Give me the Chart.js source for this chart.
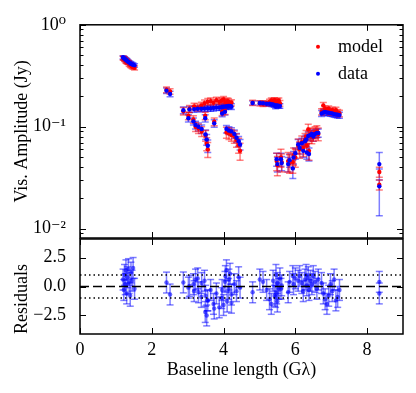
<!DOCTYPE html>
<html>
<head>
<meta charset="utf-8">
<script src="https://cdn.jsdelivr.net/npm/chart.js@4.4.0/dist/chart.umd.min.js"></script>
<style>
  body { margin: 0; background: #fff; }
  #wrap { position: relative; width: 416px; height: 393px; }
  canvas { position: absolute; left: 0; top: 0; }
</style>
</head>
<body>
<div id="wrap">
  <canvas id="amp" width="416" height="393"></canvas>
  <canvas id="res" width="416" height="393"></canvas>
</div>
<script>
// baseline length in G lambda
const baseline = [
  1.20, 1.22, 1.24, 1.26, 1.28, 1.30, 1.32, 1.35, 1.37, 1.40, 1.42, 1.45, 1.48, 1.52,
  2.41, 2.51,
  2.88, 3.05, 3.18, 3.28, 3.38, 3.47, 3.56, 3.64, 3.72, 3.80, 3.88, 3.95, 4.00, 4.05, 4.10, 4.14, 4.18, 4.22,
  3.96, 4.04,
  3.02, 3.16, 3.22, 3.30, 3.39, 3.49, 3.50, 3.53, 3.56, 3.74,
  4.08, 4.15, 4.22, 4.30, 4.36, 4.42, 4.46,
  4.81, 5.01, 5.10, 5.20, 5.28, 5.33, 5.38, 5.42, 5.46, 5.50, 5.54, 5.57, 5.45,
  5.48, 5.50, 5.60, 5.62, 5.80, 5.84, 5.93, 5.95, 6.00, 6.08, 6.12, 6.18, 6.22, 6.27, 6.30, 6.32, 6.36, 6.38, 6.42, 6.46, 6.50, 6.55, 6.60, 6.64,
  6.73, 6.78, 6.83, 6.88, 6.93, 6.98, 7.03, 7.08, 7.13, 7.18, 7.23,
  8.34, 8.34
];
// observed amplitude (Jy) and its error
const ampData = [
  0.480, 0.472, 0.468, 0.460, 0.455, 0.448, 0.440, 0.432, 0.428, 0.420, 0.415, 0.410, 0.405, 0.400,
  0.226, 0.210,
  0.145, 0.148, 0.149, 0.150, 0.150, 0.151, 0.152, 0.152, 0.153, 0.154, 0.155, 0.156, 0.157, 0.158, 0.159, 0.160, 0.160, 0.158,
  0.135, 0.140,
  0.121, 0.113, 0.104, 0.100, 0.095, 0.121, 0.084, 0.075, 0.065, 0.108,
  0.095, 0.092, 0.090, 0.085, 0.078, 0.072, 0.067,
  0.171, 0.171, 0.170, 0.168, 0.168, 0.166, 0.165, 0.163, 0.162, 0.162, 0.160, 0.160, 0.158,
  0.048, 0.043, 0.048, 0.044, 0.043, 0.047, 0.039, 0.050, 0.055, 0.067, 0.062, 0.069, 0.058, 0.072, 0.075, 0.056, 0.081, 0.054, 0.083, 0.085, 0.080, 0.085, 0.087, 0.087,
  0.135, 0.138, 0.140, 0.138, 0.137, 0.136, 0.135, 0.133, 0.132, 0.131, 0.130,
  0.043, 0.026
];
const ampDataErr = [
  0.018, 0.018, 0.018, 0.018, 0.018, 0.018, 0.018, 0.017, 0.017, 0.017, 0.017, 0.016, 0.016, 0.016,
  0.014, 0.013,
  0.011, 0.010, 0.010, 0.010, 0.010, 0.010, 0.010, 0.010, 0.010, 0.010, 0.010, 0.010, 0.010, 0.010, 0.010, 0.010, 0.010, 0.010,
  0.010, 0.010,
  0.010, 0.009, 0.009, 0.009, 0.009, 0.010, 0.009, 0.009, 0.009, 0.009,
  0.008, 0.008, 0.008, 0.008, 0.008, 0.008, 0.008,
  0.008, 0.008, 0.008, 0.008, 0.008, 0.008, 0.008, 0.008, 0.008, 0.008, 0.008, 0.008, 0.008,
  0.007, 0.007, 0.007, 0.007, 0.007, 0.007, 0.008, 0.007, 0.007, 0.008, 0.008, 0.008, 0.008, 0.008, 0.008, 0.008, 0.008, 0.008, 0.008, 0.008, 0.008, 0.008, 0.008, 0.008,
  0.009, 0.009, 0.009, 0.009, 0.009, 0.009, 0.009, 0.009, 0.009, 0.009, 0.009,
  0.013, 0.0126
];
// model amplitude (Jy) and its error
const ampModel = [
  0.472, 0.468, 0.458, 0.452, 0.440, 0.438, 0.430, 0.428, 0.412, 0.405, 0.398, 0.390, 0.385, 0.378,
  0.231, 0.222,
  0.142, 0.150, 0.158, 0.155, 0.162, 0.170, 0.176, 0.178, 0.172, 0.182, 0.176, 0.180, 0.185, 0.172, 0.178, 0.176, 0.168, 0.172,
  0.140, 0.143,
  0.128, 0.118, 0.100, 0.096, 0.090, 0.128, 0.082, 0.068, 0.060, 0.112,
  0.088, 0.086, 0.083, 0.080, 0.074, 0.066, 0.058,
  0.172, 0.170, 0.168, 0.170, 0.175, 0.180, 0.178, 0.182, 0.175, 0.178, 0.180, 0.170, 0.170,
  0.046, 0.042, 0.050, 0.045, 0.046, 0.044, 0.045, 0.052, 0.050, 0.065, 0.060, 0.070, 0.062, 0.075, 0.080, 0.065, 0.094, 0.058, 0.085, 0.080, 0.084, 0.088, 0.090, 0.085,
  0.140, 0.162, 0.150, 0.145, 0.150, 0.140, 0.145, 0.140, 0.145, 0.138, 0.135,
  0.036, 0.027
];
const ampModelErr = [
  0.020, 0.020, 0.020, 0.020, 0.020, 0.020, 0.019, 0.019, 0.019, 0.019, 0.018, 0.018, 0.018, 0.018,
  0.015, 0.014,
  0.012, 0.012, 0.012, 0.012, 0.012, 0.013, 0.013, 0.013, 0.013, 0.013, 0.013, 0.013, 0.013, 0.013, 0.013, 0.013, 0.012, 0.012,
  0.011, 0.011,
  0.011, 0.010, 0.010, 0.010, 0.010, 0.011, 0.010, 0.010, 0.010, 0.010,
  0.011, 0.011, 0.011, 0.011, 0.011, 0.011, 0.011,
  0.010, 0.010, 0.010, 0.010, 0.011, 0.011, 0.011, 0.011, 0.011, 0.011, 0.011, 0.011, 0.011,
  0.009, 0.009, 0.010, 0.009, 0.010, 0.009, 0.010, 0.010, 0.010, 0.011, 0.011, 0.011, 0.011, 0.011, 0.012, 0.011, 0.012, 0.011, 0.012, 0.012, 0.012, 0.012, 0.012, 0.012,
  0.010, 0.011, 0.010, 0.010, 0.010, 0.010, 0.010, 0.010, 0.010, 0.010, 0.010,
  0.004, 0.003
];
// normalised residuals and their errors
const resid = [
  0.6, -0.3, 1.0, 0.2, 1.4, -0.6, 0.8, 1.5, 0.3, -0.8, 1.2, 0.5, 1.6, -0.2,
  0.34, -0.69,
  0.35, 0.05, -0.4, 0.7, -0.9, 0.5, -1.2, -0.3, -1.5, -0.6, -1.8, -1.0, -1.6, 0.9, -1.3, -0.2, 1.1, -0.7,
  -0.3, 0.4,
  -0.1, 0.2, 0.6, -0.5, 0.3, -2.2, -0.8, -2.5, -1.2, -1.9,
  1.4, 0.6, -1.4, 0.2, -0.4, 0.8, -0.1,
  -0.5, 0.6, 0.4, -0.3, -1.1, -1.5, 0.5, -0.8, 1.0, -1.3, -0.2, 0.7, -0.9,
  -0.6, 0.3, -0.2, 0.1, -0.5, 0.4, 0.9, 0.2, 0.7, 0.5, 0.9, 0.3, -0.4, 0.6, 1.0, 0.1, 0.8, -0.3, 0.5, 0.2, 0.9, 0.4, -0.2, 0.6,
  0.3, -0.6, -1.1, -1.5, -0.8, 0.2, -0.4, 0.6, -1.2, -0.9, -0.3,
  0.4, -0.6
];
const residErr = baseline.map(() => 0.9);

const xTicks = [0, 2, 4, 6, 8];
const ampTicks = [0.01, 0.1, 1];
const residTicks = [-2.5, 0, 2.5];
const residLines = [-1, 0, 1];

Chart.defaults.font.family = "'Liberation Serif', 'DejaVu Serif', serif";
Chart.defaults.font.size = 18;
Chart.defaults.color = '#000';

const BLUE = 'rgb(0,0,255)';
const BLUE_E = 'rgba(0,0,255,0.5)';
const RED = 'rgb(255,0,0)';
const RED_E = 'rgba(255,0,0,0.5)';

function points(ys) {
  return baseline.map((x, i) => ({x: x, y: ys[i]}));
}
function errBars(ys, es) {
  const out = [];
  baseline.forEach((x, i) => {
    out.push({x: x, y: ys[i] - es[i]}, {x: x, y: ys[i] + es[i]}, {x: x, y: null});
  });
  return out;
}
function errSet(ys, es, col, order) {
  return {
    data: errBars(ys, es), showLine: true, spanGaps: false, order: order,
    borderColor: col, borderWidth: 1.5,
    pointStyle: 'line', pointRadius: 3.5, pointBorderColor: col, pointBorderWidth: 1.5
  };
}

const sup = {'0': '⁰', '1': '¹', '2': '²', '-': '⁻'};
function powLabel(v) {
  const e = String(Math.round(Math.log10(v)));
  return '10' + e.split('').map(c => sup[c]).join('');
}

// inward ticks + axes box
const frame = {
  id: 'frame',
  afterDraw(chart, args, opts) {
    const {ctx, chartArea: a, scales} = chart;
    ctx.save();
    ctx.strokeStyle = '#000';
    ctx.lineWidth = 1;
    ctx.beginPath();
    xTicks.forEach(v => {
      const p = Math.round(scales.x.getPixelForValue(v)) + 0.5;
      ctx.moveTo(p, a.top); ctx.lineTo(p, a.top + 6);
      ctx.moveTo(p, a.bottom); ctx.lineTo(p, a.bottom - 6);
    });
    opts.major.forEach(v => {
      const p = Math.round(scales.y.getPixelForValue(v)) + 0.5;
      ctx.moveTo(a.left, p); ctx.lineTo(a.left + 6, p);
      ctx.moveTo(a.right, p); ctx.lineTo(a.right - 6, p);
    });
    (opts.minor || []).forEach(v => {
      const p = Math.round(scales.y.getPixelForValue(v)) + 0.5;
      ctx.moveTo(a.left, p); ctx.lineTo(a.left + 3.5, p);
      ctx.moveTo(a.right, p); ctx.lineTo(a.right - 3.5, p);
    });
    ctx.stroke();
    ctx.lineWidth = 1.5;
    ctx.strokeRect(a.left, a.top, a.right - a.left, a.bottom - a.top);
    ctx.restore();
  }
};

// legend drawn inside the top panel
const innerLegend = {
  id: 'innerLegend',
  afterDraw(chart) {
    const {ctx, chartArea: a} = chart;
    const items = ['model', 'data'].map(l => chart.data.datasets.find(d => d.label === l));
    ctx.save();
    ctx.font = "18px 'Liberation Serif', 'DejaVu Serif', serif";
    ctx.textBaseline = 'middle';
    items.forEach((d, i) => {
      const y = a.top + 22 + i * 27;
      ctx.fillStyle = d.backgroundColor;
      ctx.beginPath();
      ctx.arc(a.right - 85, y, 2, 0, Math.PI * 2);
      ctx.fill();
      ctx.fillStyle = '#000';
      ctx.fillText(d.label, a.right - 65, y);
    });
    ctx.restore();
  }
};

const ampMinor = [];
[-3, -2, -1].forEach(e => {
  for (let k = 2; k <= 9; k++) {
    const v = k * Math.pow(10, e);
    if (v >= 0.0081 && v < 1) ampMinor.push(v);
  }
});

new Chart(document.getElementById('amp'), {
  type: 'scatter',
  data: {
    datasets: [
      {label: 'data', data: points(ampData), order: 0, backgroundColor: BLUE, borderColor: BLUE, pointRadius: 2.2, borderWidth: 0},
      {label: 'model', data: points(ampModel), order: 1, backgroundColor: RED, borderColor: RED, pointRadius: 2.2, borderWidth: 0},
      errSet(ampModel, ampModelErr, RED_E, 2),
      errSet(ampData, ampDataErr, BLUE_E, 3)
    ]
  },
  options: {
    responsive: false,
    animation: false,
    layout: {padding: {left: 0, top: 19, right: 13, bottom: 155}},
    plugins: {
      legend: {display: false},
      tooltip: {enabled: false},
      frame: {major: ampTicks, minor: ampMinor}
    },
    scales: {
      x: {type: 'linear', min: 0, max: 9, display: false},
      y: {
        type: 'logarithmic', min: 0.0081, max: 1,
        grid: {display: false, drawTicks: false},
        border: {display: false},
        afterBuildTicks: s => { s.ticks = ampTicks.map(v => ({value: v})); },
        afterFit: s => { s.width = 80; },
        ticks: {padding: 14, callback: v => powLabel(v)},
        title: {display: true, text: 'Vis. Amplitude (Jy)', padding: {top: 11, bottom: 0}}
      }
    }
  },
  plugins: [frame, innerLegend]
});

new Chart(document.getElementById('res'), {
  type: 'scatter',
  data: {
    datasets: [
      {data: [{x: 0, y: residLines[1]}, {x: 9, y: residLines[1]}], showLine: true, order: 0,
       borderColor: '#000', borderWidth: 1.5, borderDash: [9, 4], pointRadius: 0},
      {data: [{x: 0, y: residLines[0]}, {x: 9, y: residLines[0]}, {x: 9, y: null}, {x: 0, y: residLines[2]}, {x: 9, y: residLines[2]}],
       showLine: true, spanGaps: false, order: 1,
       borderColor: '#000', borderWidth: 1.5, borderDash: [1.5, 3], pointRadius: 0},
      {data: points(resid), order: 2, backgroundColor: 'rgba(0,0,255,0.6)', pointRadius: 2.2, borderWidth: 0},
      errSet(resid, residErr, BLUE_E, 3)
    ]
  },
  options: {
    responsive: false,
    animation: false,
    layout: {padding: {left: 0, top: 239, right: 13, bottom: 0}},
    plugins: {
      legend: {display: false},
      tooltip: {enabled: false},
      frame: {major: residTicks}
    },
    scales: {
      x: {
        type: 'linear', min: 0, max: 9,
        grid: {display: false, drawTicks: false},
        border: {display: false},
        afterBuildTicks: s => { s.ticks = xTicks.map(v => ({value: v})); },
        afterFit: s => { s.height = 59; },
        ticks: {padding: 5},
        title: {display: true, text: 'Baseline length (Gλ)', padding: {top: 0, bottom: 12}}
      },
      y: {
        type: 'linear', min: -4.1, max: 4.1,
        grid: {display: false, drawTicks: false},
        border: {display: false},
        afterBuildTicks: s => { s.ticks = residTicks.map(v => ({value: v})); },
        afterFit: s => { s.width = 80; },
        ticks: {padding: 14, callback: v => v.toFixed(1).replace('-', '−')},
        title: {display: true, text: 'Residuals', align: 'start', padding: {top: 11, bottom: 0}}
      }
    }
  },
  plugins: [frame]
});
</script>
</body>
</html>
